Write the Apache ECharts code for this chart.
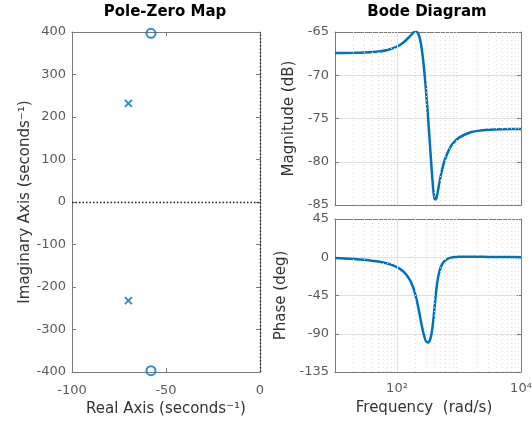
<!DOCTYPE html>
<html><head><meta charset="utf-8">
<script src="https://cdn.jsdelivr.net/npm/echarts@6/dist/echarts.min.js"></script>
<style>html,body{margin:0;padding:0;background:#fff}#c{width:532px;height:426px}</style>
</head><body><div id="c"></div>
<script>
// Pole-zero map data
const poleRe = [-70, -70];
const poleIm = [232, -232];
const zeroRe = [-58, -58];
const zeroIm = [397, -397];

// Bode data
const freq = [10, 20, 30, 50, 70, 100, 130, 160, 180, 190, 200, 210, 220, 230, 240, 250, 260, 270, 280, 290, 300, 310, 320, 330, 340, 350, 360, 370, 380, 390, 400, 410, 420, 430, 440, 450, 470, 500, 550, 600, 700, 800, 1000, 1500, 2000, 3000, 5000, 10000];
const magnitude = [-67.43, -67.41, -67.37, -67.26, -67.08, -66.69, -66.16, -65.53, -65.13, -65.00, -64.94, -64.99, -65.19, -65.56, -66.14, -66.90, -67.83, -68.90, -70.08, -71.32, -72.62, -73.95, -75.30, -76.67, -78.02, -79.35, -80.63, -81.80, -82.81, -83.61, -84.13, -84.39, -84.41, -84.25, -83.98, -83.64, -82.89, -81.86, -80.53, -79.63, -78.51, -77.88, -77.21, -76.62, -76.43, -76.30, -76.24, -76.21];
const phase = [-0.95, -1.92, -2.91, -5.0, -7.34, -11.6, -17.6, -26.3, -34.5, -39.6, -45.4, -51.8, -58.7, -65.9, -73.0, -79.7, -85.8, -90.8, -94.8, -97.8, -99.5, -100.2, -100.2, -99.2, -97.3, -94.3, -90.0, -84.5, -77.8, -70.2, -61.8, -53.5, -45.8, -38.9, -32.9, -27.8, -20.2, -13.0, -6.7, -3.7, -1.1, -0.05, 0.6, 0.7, 0.6, 0.43, 0.27, 0.14];

// Grid lines / ticks
const minorFreqGrid = [20, 30, 40, 50, 60, 70, 80, 90, 200, 300, 400, 500, 600, 700, 800, 900, 2000, 3000, 4000, 5000, 6000, 7000, 8000, 9000];
const majorFreqGrid = [100];
const freqLabels = {100: '10²', 10000: '10⁴'};

const FONT = 'DejaVu Sans';
const BLUE = '#0072BD';
const FRAME = '#7a7a7a';
const TICKC = '#5a5a5a';
const NAMEC = '#333333';

function frameAxis(gridIndex, pos, type, min, max, interval) {
  const a = {
    gridIndex, position: pos, type, min, max,
    axisLine: {show: true, onZero: false, lineStyle: {color: FRAME, width: 1}},
    axisTick: {show: type !== 'log', inside: true, length: 4, lineStyle: {color: FRAME}},
    axisLabel: {show: false},
    splitLine: {show: false}
  };
  if (interval !== undefined) a.interval = interval;
  if (type === 'log') a.logBase = 10;
  return a;
}

const xAxes = [];
const yAxes = [];
// grid 0 (pole-zero)
let ax = frameAxis(0, 'bottom', 'value', -100, 0, 50);
ax.axisLabel = {show: true, margin: 12, color: TICKC, fontSize: 13, fontFamily: FONT};
ax.name = 'Real Axis (seconds⁻¹)';
ax.nameLocation = 'middle'; ax.nameGap = 29;
ax.nameTextStyle = {color: NAMEC, fontSize: 15, fontFamily: FONT};
xAxes.push(ax);
xAxes.push(frameAxis(0, 'top', 'value', -100, 0, 50));
ax = frameAxis(0, 'left', 'value', -400, 400, 100);
ax.axisLabel = {show: true, margin: 6, color: TICKC, fontSize: 13, fontFamily: FONT};
ax.name = 'Imaginary Axis (seconds⁻¹)';
ax.nameLocation = 'middle'; ax.nameGap = 38; ax.nameRotate = 90;
ax.nameTextStyle = {color: NAMEC, fontSize: 15, fontFamily: FONT};
yAxes.push(ax);
yAxes.push(frameAxis(0, 'right', 'value', -400, 400, 100));
// grid 1 (magnitude)
xAxes.push(frameAxis(1, 'bottom', 'log', 10, 10000));
xAxes.push(frameAxis(1, 'top', 'log', 10, 10000));
ax = frameAxis(1, 'left', 'value', -85, -65, 5);
ax.axisLabel = {show: true, margin: 6, color: TICKC, fontSize: 13, fontFamily: FONT};
ax.splitLine = {show: true, lineStyle: {color: '#e0e0e0', width: 1}};
ax.name = 'Magnitude (dB)';
ax.nameLocation = 'middle'; ax.nameGap = 38; ax.nameRotate = 90;
ax.nameTextStyle = {color: NAMEC, fontSize: 15, fontFamily: FONT};
yAxes.push(ax);
yAxes.push(frameAxis(1, 'right', 'value', -85, -65, 5));
// grid 2 (phase)
ax = frameAxis(2, 'bottom', 'log', 10, 10000);
ax.axisLabel = {show: true, margin: 10, color: TICKC, fontSize: 13, fontFamily: FONT,
  formatter: v => freqLabels[Math.round(v)] || ''};
ax.name = 'Frequency  (rad/s)';
ax.nameLocation = 'middle'; ax.nameGap = 29;
ax.nameTextStyle = {color: NAMEC, fontSize: 15, fontFamily: FONT, padding: [0, 8, 0, 0]};
xAxes.push(ax);
xAxes.push(frameAxis(2, 'top', 'log', 10, 10000));
ax = frameAxis(2, 'left', 'value', -135, 45, 45);
ax.axisLabel = {show: true, margin: 6, color: TICKC, fontSize: 13, fontFamily: FONT};
ax.splitLine = {show: true, lineStyle: {color: '#e0e0e0', width: 1}};
ax.name = 'Phase (deg)';
ax.nameLocation = 'middle'; ax.nameGap = 46; ax.nameRotate = 90;
ax.nameTextStyle = {color: NAMEC, fontSize: 15, fontFamily: FONT};
yAxes.push(ax);
yAxes.push(frameAxis(2, 'right', 'value', -135, 45, 45));

function freqGridSeries(xi, yi) {
  return {
    type: 'line', xAxisIndex: xi, yAxisIndex: yi, data: [], silent: true, z: 1,
    markLine: {
      silent: true, symbol: 'none', label: {show: false}, animation: false,
      data: minorFreqGrid.map(v => ({xAxis: v, lineStyle: {type: [1, 3], color: '#dcdcdc', width: 1}}))
        .concat(majorFreqGrid.map(v => ({xAxis: v, lineStyle: {type: 'solid', color: '#e0e0e0', width: 1}})))
    }
  };
}

const option = {
  backgroundColor: '#ffffff',
  animation: false,
  grid: [
    {left: 72, top: 32, width: 188, height: 340, containLabel: false, outerBoundsMode: 'none'},
    {left: 335, top: 32, width: 186, height: 173, containLabel: false, outerBoundsMode: 'none'},
    {left: 335, top: 219, width: 186, height: 153, containLabel: false, outerBoundsMode: 'none'}
  ],
  xAxis: xAxes,
  yAxis: yAxes,
  graphic: [
    {type: 'text', x: 165, y: 12, style: {text: 'Pole-Zero Map', font: 'bold 15px "DejaVu Sans"', fill: '#000', align: 'center', verticalAlign: 'middle', textAlign: 'center', textVerticalAlign: 'middle'}},
    {type: 'text', x: 427, y: 12, style: {text: 'Bode Diagram', font: 'bold 15px "DejaVu Sans"', fill: '#000', align: 'center', verticalAlign: 'middle', textAlign: 'center', textVerticalAlign: 'middle'}}
  ],
  series: [
    {
      type: 'line', xAxisIndex: 0, yAxisIndex: 0, data: [], silent: true, z: 1,
      markLine: {
        silent: true, symbol: 'none', label: {show: false}, animation: false,
        lineStyle: {type: [1.5, 2], color: '#222', width: 1.3},
        data: [{yAxis: 0}, {xAxis: 0}]
      }
    },
    {
      type: 'scatter', xAxisIndex: 0, yAxisIndex: 0, z: 3,
      data: poleRe.map((r, i) => [r, poleIm[i]]),
      symbol: 'path://M0,0L10,10M10,0L0,10', symbolSize: 7,
      itemStyle: {color: 'none', borderColor: BLUE, borderWidth: 2}
    },
    {
      type: 'scatter', xAxisIndex: 0, yAxisIndex: 0, z: 3, clip: false,
      data: zeroRe.map((r, i) => [r, zeroIm[i]]),
      symbol: 'circle', symbolSize: 9,
      itemStyle: {color: 'rgba(0,0,0,0)', borderColor: BLUE, borderWidth: 2}
    },
    freqGridSeries(2, 2),
    freqGridSeries(4, 4),
    {
      type: 'line', xAxisIndex: 2, yAxisIndex: 2, z: 3, showSymbol: false, smooth: 0.2,
      data: freq.map((f, i) => [f, magnitude[i]]),
      lineStyle: {color: BLUE, width: 2.5}
    },
    {
      type: 'line', xAxisIndex: 4, yAxisIndex: 4, z: 3, showSymbol: false, smooth: 0.2,
      data: freq.map((f, i) => [f, phase[i]]),
      lineStyle: {color: BLUE, width: 2.5}
    }
  ]
};
const chart = echarts.init(document.getElementById('c'), null, {renderer: 'canvas'});
chart.setOption(option);
</script>
</body></html>
